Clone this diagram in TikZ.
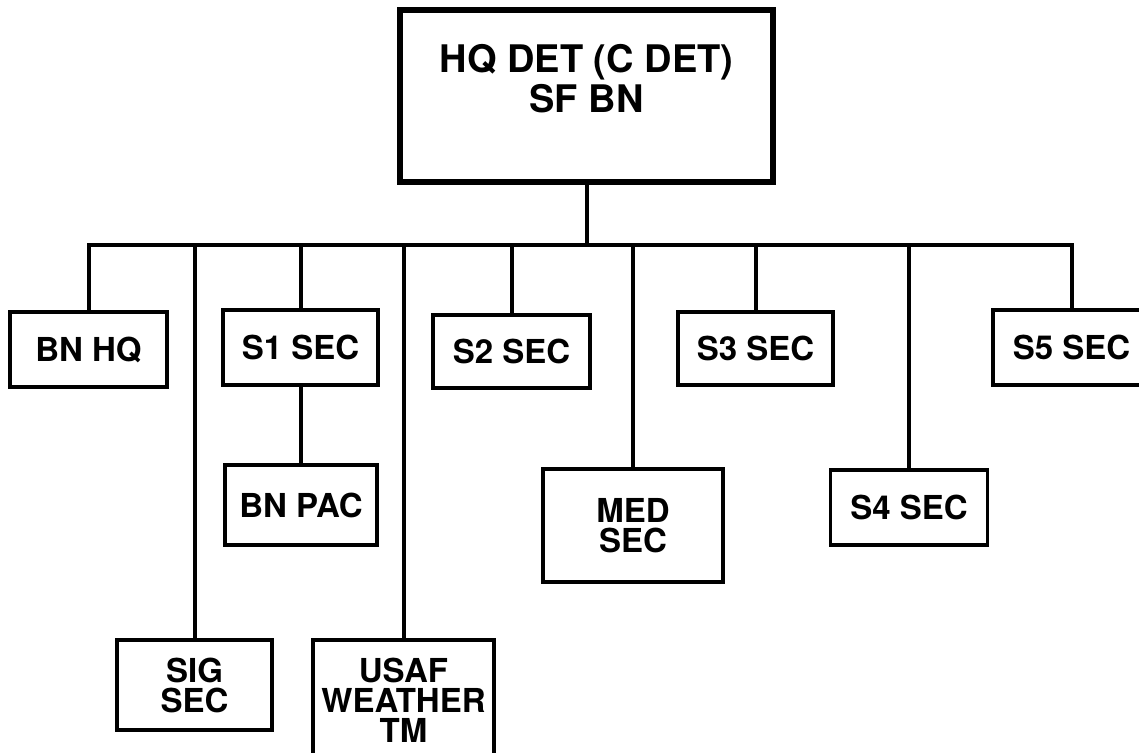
\documentclass[tikz,border=0pt]{standalone}
\usepackage{fontspec}
\setmainfont{TeX Gyre Heros}
\begin{document}
\begin{tikzpicture}[x=.5pt, y=-.5pt, line width=2pt,
  sec/.style={draw, line width=1.6pt, align=center, inner sep=0pt, font=\fontsize{16.5}{15}\selectfont\bfseries},
  head/.style={draw, line width=3pt, align=center, inner sep=0pt, font=\fontsize{19}{20}\selectfont\bfseries}]
\clip (0,0) rectangle (1139,752);

\node[head, minimum width=186.5pt, minimum height=86pt, text depth=18pt] (hq) at (586.5,96) {HQ DET (C DET)\\SF BN};
\coordinate (bus) at (586.5,245);

\node[sec, minimum width=78.5pt, minimum height=37.5pt] (bnhq) at (88.5,349.5) {BN HQ};
\node[sec, minimum width=77.5pt, minimum height=37.5pt] (sone) at (300.5,347.5) {S1 SEC};
\node[sec, minimum width=76pt, minimum height=40pt] (bnpac) at (301,505) {BN PAC};
\node[sec, minimum width=77.5pt, minimum height=45pt] (sig) at (194.5,685) {SIG\\SEC};
\node[sec, minimum width=90.5pt, minimum height=60pt] (usaf) at (403.5,700) {USAF\\WEATHER\\TM};
\node[sec, minimum width=78.5pt, minimum height=36.5pt] (stwo) at (511.5,351.5) {S2 SEC};
\node[sec, minimum width=90pt, minimum height=56.5pt] (med) at (633,525.5) {MED\\SEC};
\node[sec, minimum width=77.5pt, minimum height=36.5pt] (sthree) at (755.5,348.5) {S3 SEC};
\node[sec, minimum width=78.5pt, minimum height=37.5pt] (sfour) at (909,507.5) {S4 SEC};
\node[sec, minimum width=78.5pt, minimum height=37.5pt] (sfive) at (1071.5,347.5) {S5 SEC};

% staff lines
\draw (hq.south) -- (bus);
\foreach \sub in {bnhq,sone,sig,usaf,stwo,med,sthree,sfour,sfive}
  \draw (bus) -| (\sub.north);
\draw (sone.south) -- (sone.south |- bnpac.north);
\end{tikzpicture}
\end{document}
